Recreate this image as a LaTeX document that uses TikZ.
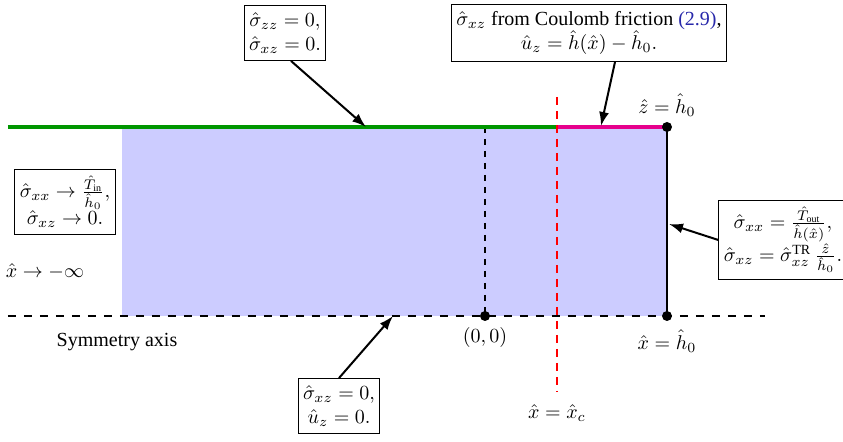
\documentclass[tikz,border=0pt]{standalone}
\usepackage{fontspec}
\setmainfont{Liberation Serif}
\usepackage{tikz}
\usetikzlibrary{arrows,arrows.meta,positioning}
\usepackage{xcolor}
\definecolor{wallgreen}{RGB}{0,150,0}
\definecolor{frictionpink}{RGB}{230,0,140}
\definecolor{domainblue}{RGB}{204,204,255}
\definecolor{linkblue}{RGB}{40,40,170}

\begin{document}
\begin{tikzpicture}[
	x=0.5pt, y=-0.5pt,
	bcbox/.style={draw, line width=0.5pt, fill=white, align=center, inner xsep=2.5pt, inner ysep=3.5pt},
	arr/.style={-{Latex[length=7pt, width=5pt]}, line width=1pt},
	dot/.style={circle, fill=black, inner sep=0pt, minimum size=5pt}
]
	\useasboundingbox (0,0) rectangle (843,442);

	% Corners of the domain
	\coordinate (wallL)  at (8,127);
	\coordinate (inL)    at (122,127);
	\coordinate (cTop)   at (557,127);
	\coordinate (tr)     at (667,127);
	\coordinate (br)     at (667,316);
	\coordinate (inB)    at (122,316);
	\coordinate (oTop)   at (485,127);
	\coordinate (axL)    at (8,316);
	\coordinate (axR)    at (765,316);

	% Domain
	\fill[domainblue] (inL) rectangle (br);

	% Symmetry axis and centre line
	\draw[dashed, dash pattern=on 4pt off 4pt, line width=0.8pt] (axL) -- (axR);
	\draw[dashed, line width=0.8pt] (oTop) -- (485,316);

	% Top wall: sticking part and friction part
	\draw[wallgreen, line width=2pt] (wallL) -- (cTop);
	\draw[frictionpink, line width=2pt] (cTop) -- (tr);

	% Outlet
	\draw[line width=0.8pt] (tr) -- (br);

	% Critical point
	\draw[red, dash pattern=on 4pt off 3pt, line width=0.8pt] (557,97) -- (557,392);

	% Points
	\node[dot] (ptTR) at (tr) {};
	\node[dot] (ptBR) at (br) {};
	\node[dot] (ptO)  at (485,316) {};

	% Labels
	\node (zlab)   at (667,105) {$\hat{z} = \hat{h}_0$};
	\node (xlab)   at (667,341) {$\hat{x} = \hat{h}_0$};
	\node (olab)   at (485,338) {$(0,0)$};
	\node (xclab)  at (557,413) {$\hat{x} = \hat{x}_c$};
	\node (symlab) at (117,342) {Symmetry axis};
	\node (inflab) at (45,271)  {$\hat{x} \rightarrow -\infty$};

	% Boundary conditions
	\node[bcbox] (topbc) at (285,33)
		{$\hat{\sigma}_{zz} = 0,$\\ $\hat{\sigma}_{xz} = 0.$};
	\node[bcbox] (fricbc) at (589,33)
		{$\hat{\sigma}_{xz}$ from Coulomb friction \textcolor{linkblue}{(2.9)},\\ $\hat{u}_z = \hat{h}(\hat{x}) - \hat{h}_0.$};
	\node[bcbox] (inbc) at (65,202)
		{$\hat{\sigma}_{xx} \rightarrow \frac{\hat{T}_{\mathrm{in}}}{\hat{h}_0},$\\ $\hat{\sigma}_{xz} \rightarrow 0.$};
	\node[bcbox] (outbc) at (783,240)
		{$\hat{\sigma}_{xx} = \frac{\hat{T}_{\mathrm{out}}}{\hat{h}(\hat{x})},$\\ $\hat{\sigma}_{xz} = \hat{\sigma}_{xz}^{\mathrm{TR}}\,\frac{\hat{z}}{\hat{h}_0}.$};
	\node[bcbox] (botbc) at (339,406)
		{$\hat{\sigma}_{xz} = 0,$\\ $\hat{u}_z = 0.$};

	\coordinate (topTip)  at (366,127);
	\coordinate (fricTip) at (601,126);
	\coordinate (outTip)  at (669,224);
	\coordinate (botTip)  at (393,316);

	\draw[arr] ([xshift=3pt]topbc.south) -- (topTip);
	\draw[arr] ([xshift=13pt]fricbc.south) -- (fricTip);
	\draw[arr] (outbc.west) -- (outTip);
	\draw[arr] (botbc.north) -- (botTip);
\end{tikzpicture}
\end{document}
